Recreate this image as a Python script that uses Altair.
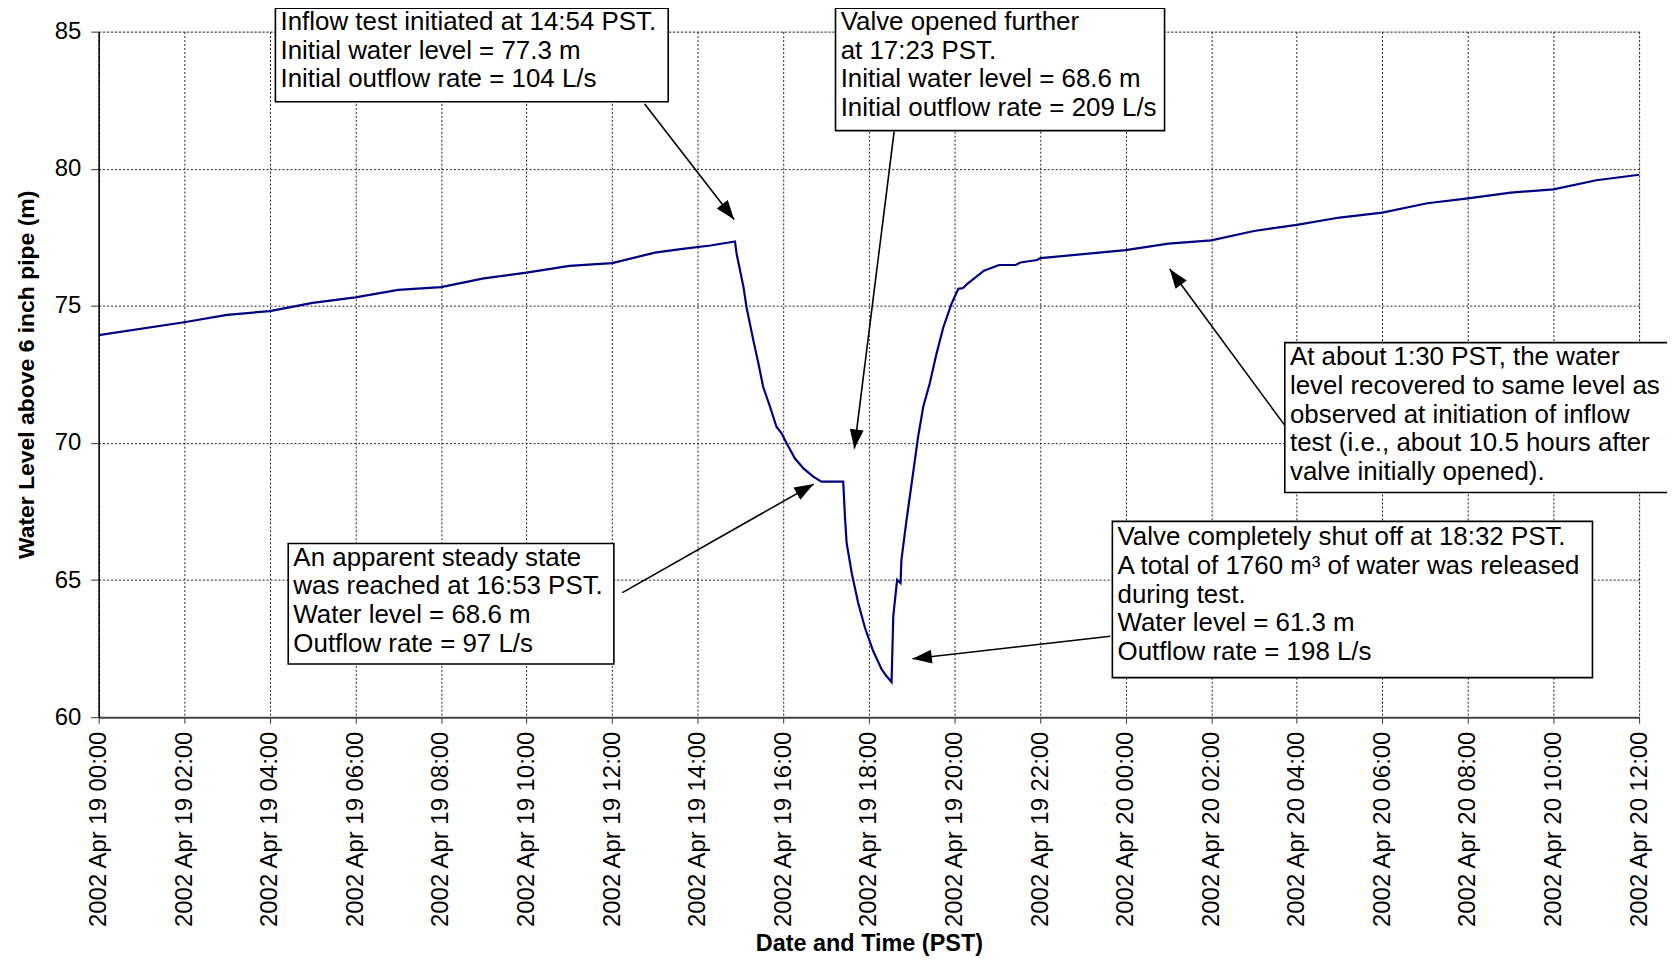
import math
from datetime import datetime, timedelta
import altair as alt
import pandas as pd

# ---------------- data (hours after 2002-04-19 00:00 PST, water level m) ----------------
line_hours = [0, 2, 3, 4, 5, 6, 7, 8, 9, 10, 11, 12, 13, 13.6, 14.3, 14.87, 14.91,
              15.07, 15.14, 15.30, 15.42, 15.53, 15.69, 15.84, 15.96, 16.08, 16.27,
              16.47, 16.70, 16.89, 17.40, 17.44, 17.48, 17.60, 17.75, 17.91, 18.10,
              18.30, 18.41, 18.53, 18.57, 18.61, 18.66, 18.74, 18.76, 18.88, 19.00,
              19.15, 19.27, 19.42, 19.58, 19.74, 19.93, 20.09, 20.20, 20.30, 20.69,
              21.04, 21.43, 21.54, 21.93, 22.01, 24, 25, 26, 27, 28, 29, 30, 31.05,
              32, 33, 34, 35, 36]
line_level = [73.93, 74.40, 74.67, 74.81, 75.11, 75.31, 75.58, 75.68, 76.00, 76.21,
              76.46, 76.56, 76.94, 77.07, 77.20, 77.35, 76.89, 75.68, 74.95, 73.74,
              72.89, 72.04, 71.32, 70.59, 70.35, 69.98, 69.44, 69.07, 68.77, 68.59,
              68.59, 67.32, 66.35, 65.25, 64.16, 63.25, 62.41, 61.74, 61.50, 61.28,
              63.68, 64.28, 65.01, 64.89, 65.74, 67.19, 68.53, 70.22, 71.32, 72.16,
              73.25, 74.22, 75.07, 75.62, 75.65, 75.80, 76.28, 76.49, 76.49, 76.58,
              76.67, 76.74, 77.03, 77.27, 77.39, 77.73, 77.95, 78.22, 78.40, 78.74,
              78.92, 79.13, 79.25, 79.58, 79.78]

tick_hours = list(range(0, 37, 2))
y_ticks = [60, 65, 70, 75, 80, 85]

ann_text = [
    "Inflow test initiated at 14:54 PST.\nInitial water level = 77.3 m\nInitial outflow rate = 104 L/s",
    "Valve opened further\nat 17:23 PST.\nInitial water level = 68.6 m\nInitial outflow rate = 209 L/s",
    "An apparent steady state\nwas reached at 16:53 PST.\nWater level = 68.6 m\nOutflow rate = 97 L/s",
    "Valve completely shut off at 18:32 PST.\nA total of 1760 m\u00b3 of water was released\nduring test.\nWater level = 61.3 m\nOutflow rate = 198 L/s",
    "At about 1:30 PST, the water\nlevel recovered to same level as\nobserved at initiation of inflow\ntest (i.e., about 10.5 hours after\nvalve initially opened).",
]
box_h0 = [4.13, 17.22, 4.43, 23.69, 27.72]
box_h1 = [13.31, 24.91, 12.04, 34.91, 36.70]
box_v0 = [82.44, 81.39, 61.94, 61.44, 68.19]
box_v1 = [85.85, 85.85, 66.33, 67.14, 73.66]
text_h = [4.25, 17.34, 4.55, 23.81, 27.84]
text_v = [85.35, 85.35, 65.82, 66.56, 73.12]   # centre of first text line

arrow_h0 = [12.76, 18.59, 12.24, 23.64, 27.72]
arrow_v0 = [82.36, 81.35, 64.54, 62.95, 70.64]
arrow_h1 = [14.85, 17.66, 16.71, 19.02, 25.03]
arrow_v1 = [78.15, 69.79, 68.50, 62.13, 76.34]

# ---------------- layout ----------------
W, H = 1546, 688
X_SPAN_H, Y_SPAN = 36.0, 25.0
FONT = "Liberation Sans"

base = datetime(2002, 4, 19)


def iso(h):
    return (base + timedelta(hours=h)).strftime("%Y-%m-%dT%H:%M:%SZ")


def dt(h):
    d = base + timedelta(hours=h)
    return alt.DateTime(year=d.year, month=d.month, date=d.day, hours=d.hour,
                        minutes=d.minute, utc=True)


line_df = pd.DataFrame({"t": [iso(h) for h in line_hours], "v": line_level})
box_df = pd.DataFrame({"t0": [iso(h) for h in box_h0], "t1": [iso(h) for h in box_h1],
                       "v0": box_v0, "v1": box_v1})
text_df = pd.DataFrame({"t": [iso(h) for h in text_h], "v": text_v, "label": ann_text})

angles = []
for a, b, c, d in zip(arrow_h0, arrow_v0, arrow_h1, arrow_v1):
    dx = (c - a) * W / X_SPAN_H
    dy = -(d - b) * H / Y_SPAN
    angles.append(math.degrees(math.atan2(dx, -dy)) % 360)

arrow_df = pd.DataFrame({"t0": [iso(h) for h in arrow_h0], "v0": arrow_v0,
                         "t1": [iso(h) for h in arrow_h1], "v1": arrow_v1,
                         "ang": angles})

x_scale = alt.Scale(type="utc", domain=[dt(0), dt(36)], nice=False)
y_scale = alt.Scale(domain=[60, 85], nice=False, zero=False)

x_axis = alt.Axis(
    title="Date and Time (PST)",
    values=[dt(h) for h in tick_hours],
    labelExpr="utcFormat(datum.value, '%Y %b %d %H:%M')",
    labelAngle=270, labelFontSize=24, labelFont=FONT, labelColor="black",
    labelPadding=8, labelLimit=400, tickSize=6, tickColor="#333", labelOverlap=False,
    domainColor="#444", domainWidth=2,
    titleFontSize=23.5, titleFont=FONT, titleFontWeight="bold", titlePadding=15,
    titleColor="black",
    grid=True, gridDash=[2, 2], gridColor="#222", gridWidth=1,
)
y_axis = alt.Axis(
    title="Water Level above 6 inch pipe (m)",
    values=y_ticks, labelFontSize=24, labelFont=FONT, labelColor="black",
    labelPadding=10, tickSize=8, tickColor="#333",
    domainColor="black", domainWidth=1.5,
    titleFontSize=23, titleFont=FONT, titleFontWeight="bold", titlePadding=16,
    titleColor="black",
    grid=True, gridDash=[2, 2], gridColor="#222", gridWidth=1,
)

line = alt.Chart(line_df).mark_line(color="#000080", strokeWidth=2.2).encode(
    x=alt.X("t:T", scale=x_scale, axis=x_axis),
    y=alt.Y("v:Q", scale=y_scale, axis=y_axis),
)

arrow_lines = alt.Chart(arrow_df).mark_rule(color="black", strokeWidth=1.6).encode(
    x="t0:T", x2="t1:T", y="v0:Q", y2="v1:Q"
)

arrow_heads = alt.Chart(arrow_df).mark_point(
    shape="M0,0 L-0.36,1 L0.36,1 Z", filled=True, color="black", opacity=1,
    size=1500, strokeWidth=0,
).encode(
    x="t1:T", y="v1:Q", angle=alt.Angle("ang:Q", scale=None)
)

boxes = alt.Chart(box_df).mark_rect(fill="white", stroke="black", strokeWidth=1.6).encode(
    x="t0:T", x2="t1:T", y="v0:Q", y2="v1:Q"
)

texts = alt.Chart(text_df).mark_text(
    align="left", baseline="middle", lineBreak="\n", lineHeight=28.8,
    fontSize=26, font=FONT, color="black",
).encode(x="t:T", y="v:Q", text="label:N")

chart = alt.layer(line, arrow_lines, arrow_heads, boxes, texts).properties(
    width=W, height=H,
    padding={"left": 91, "top": 22, "right": 28, "bottom": 238},
    autosize=alt.AutoSizeParams(type="none"),
).configure_view(stroke=None).configure(background="white")

chart.save("out.html", embed_options={"renderer": "svg", "actions": False})
